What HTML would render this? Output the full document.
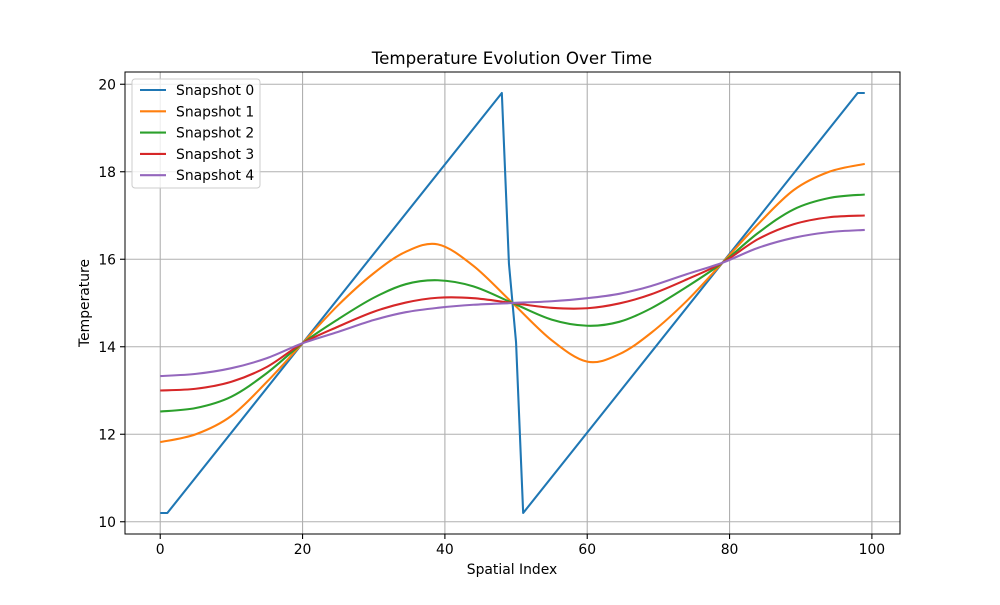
<!DOCTYPE html>
<html><head><meta charset="utf-8"><style>
body{margin:0;background:#fff;font-family:"Liberation Sans","DejaVu Sans",sans-serif}
svg text{font-family:"DejaVu Sans","Liberation Sans",sans-serif}
</style></head><body>
<svg id="chart" width="1000" height="600" viewBox="0 0 1000 600" xmlns="http://www.w3.org/2000/svg">
<rect width="1000" height="600" fill="#fff"/>
<g id="grid"></g><g id="ticks"></g><g id="series"></g>
<rect x="125" y="72" width="775" height="462" fill="none" stroke="#000" stroke-width="1"/>
<text x="512" y="64" text-anchor="middle" font-size="16.7">Temperature Evolution Over Time</text>
<text x="512" y="574" text-anchor="middle" font-size="13.9">Spatial Index</text>
<text x="89" y="303" text-anchor="middle" font-size="13.9" transform="rotate(-90 89 303)">Temperature</text>
<g id="legend"></g>
</svg>
<script>
const xTicks=[0,20,40,60,80,100];
const yTicks=[10,12,14,16,18,20];
const seriesNames=["Snapshot 0","Snapshot 1","Snapshot 2","Snapshot 3","Snapshot 4"];
const colors=["#1f77b4","#ff7f0e","#2ca02c","#d62728","#9467bd"];
const x0=[0,1,48,49,50,51,98,99];
const y0=[10.2,10.2,19.8,15.9,14.1,10.2,19.8,19.8];
const xs=[0,5,10,15,20,25,30,34.5,39,44,49.5,55,60,64.5,69,74,79,84,89,94,99];
const y1=[11.82,12.0,12.42,13.2,14.08,14.95,15.68,16.17,16.34,15.85,15.0,14.15,13.66,13.83,14.32,15.05,15.92,16.8,17.58,18.0,18.18];
const y2=[12.52,12.6,12.86,13.4,14.08,14.63,15.12,15.43,15.52,15.38,15.0,14.62,14.48,14.57,14.88,15.37,15.92,16.6,17.14,17.4,17.48];
const y3=[13.0,13.04,13.2,13.54,14.08,14.46,14.8,15.01,15.12,15.11,15.0,14.89,14.88,14.99,15.2,15.54,15.92,16.46,16.8,16.96,17.0];
const y4=[13.33,13.38,13.51,13.74,14.08,14.34,14.61,14.79,14.89,14.96,15.0,15.04,15.11,15.21,15.39,15.66,15.92,16.26,16.49,16.62,16.67];

const X=v=>125+(v+4.95)*775/108.9;
const Y=v=>534-(v-9.72)*462/10.56;
const NS="http://www.w3.org/2000/svg";
function mk(tag,attrs,parent){const e=document.createElementNS(NS,tag);for(const k in attrs)e.setAttribute(k,attrs[k]);parent.appendChild(e);return e;}
const grid=document.getElementById('grid'),ticks=document.getElementById('ticks'),ser=document.getElementById('series'),leg=document.getElementById('legend');
xTicks.forEach(t=>{
 const g=mk('line',{x1:X(t),x2:X(t),y1:72,y2:534,stroke:'#b0b0b0','stroke-width':1.1},grid);
 
 
 mk('line',{x1:X(t),x2:X(t),y1:534,y2:539,stroke:'#000','stroke-width':1.1},ticks);
 const tx=mk('text',{x:X(t),y:554,'text-anchor':'middle','font-size':13.9},ticks);tx.textContent=t;
 
 
});
yTicks.forEach(t=>{
 const g=mk('line',{x1:125,x2:900,y1:Y(t),y2:Y(t),stroke:'#b0b0b0','stroke-width':1.1},grid);
 
 
 mk('line',{x1:120,x2:125,y1:Y(t),y2:Y(t),stroke:'#000','stroke-width':1.1},ticks);
 const tx=mk('text',{x:116,y:Y(t)+5,'text-anchor':'end','font-size':13.9},ticks);tx.textContent=t;
 
 
});
function linePath(xa,ya){return xa.map((x,i)=>(i?'L':'M')+X(x).toFixed(2)+' '+Y(ya[i]).toFixed(2)).join('');}
function smoothPath(xa,ya){
 const p=xa.map((x,i)=>[X(x),Y(ya[i])]);let d='M'+p[0][0]+' '+p[0][1];
 for(let i=0;i<p.length-1;i++){const a=p[Math.max(i-1,0)],b=p[i],c=p[i+1],e=p[Math.min(i+2,p.length-1)];
  const c1=[b[0]+(c[0]-a[0])/6,b[1]+(c[1]-a[1])/6],c2=[c[0]-(e[0]-b[0])/6,c[1]-(e[1]-b[1])/6];
  d+='C'+c1[0].toFixed(2)+' '+c1[1].toFixed(2)+' '+c2[0].toFixed(2)+' '+c2[1].toFixed(2)+' '+c[0].toFixed(2)+' '+c[1].toFixed(2);}
 return d;}
const ys=[null,y1,y2,y3,y4];
for(let s=0;s<5;s++){
 const d=s===0?linePath(x0,y0):smoothPath(xs,ys[s]);
 const p=mk('path',{d:d,fill:'none',stroke:colors[s],'stroke-width':2.08,'stroke-linejoin':'round'},ser);
 
 
}
const lb=mk('rect',{x:132,y:79,width:128,height:109,rx:3,fill:'#fff','fill-opacity':0.8,stroke:'#ccc'},leg);


seriesNames.forEach((n,i)=>{
 const yy=90+i*21.3;
 const g=mk('g',{},leg);
 
 
 mk('line',{x1:140,x2:166,y1:yy,y2:yy,stroke:colors[i],'stroke-width':2.08},g);
 const t=mk('text',{x:176,y:yy+5,'font-size':13.9},g);t.textContent=n;
});
</script>
</body></html>
